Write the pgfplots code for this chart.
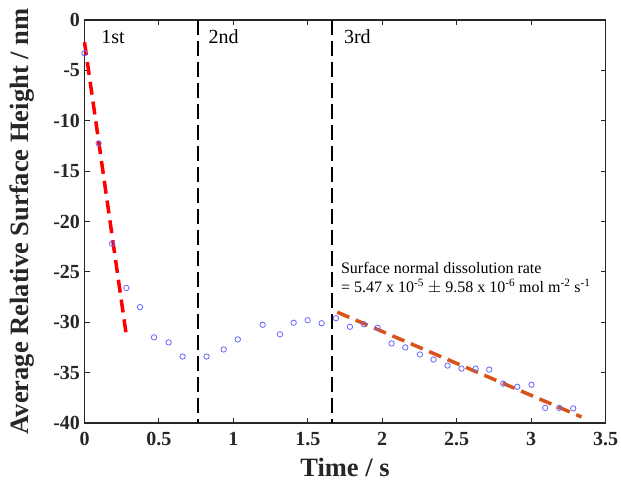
\documentclass[border=0pt]{standalone}
\usepackage{fontspec}
\setmainfont{Liberation Serif}
\usepackage{pgfplots}
\pgfplotsset{compat=1.18}
\definecolor{ptblue}{rgb}{0.4,0.4,1}
\definecolor{fitorange}{rgb}{0.85,0.325,0.098}
\definecolor{axgray}{rgb}{0.15,0.15,0.15}

\begin{document}
\begin{tikzpicture}[x=1pt,y=1pt]
\useasboundingbox (-84.5,-60) rectangle (536.5,423);
\begin{axis}[
  at={(0,0)}, anchor=south west,
  scale only axis,
  width=521pt, height=403pt,
  xmin=0, xmax=3.5, ymin=-40, ymax=0,
  xtick={0,0.5,...,3.5}, ytick={-40,-35,...,0},
  tick align=inside, tick pos=both,
  major tick length=5pt,
  axis line style={draw=axgray, line width=1.3pt},
  every tick/.style={draw=axgray, line width=1.1pt},
  /pgf/number format/assume math mode=true,
  ticklabel style={font=\bfseries\fontsize{20}{20}\selectfont, text=axgray},
  xticklabel style={yshift=-6pt},
  yticklabel style={xshift=-1pt},
  xlabel={Time / s},
  ylabel={Average Relative Surface Height / nm},
  label style={font=\bfseries\fontsize{26.5}{26.5}\selectfont, text=axgray},
  xlabel style={yshift=-5pt},
  ylabel style={yshift=12pt},
  clip=false,
]
% measured points
\addplot[only marks, mark=o, mark size=2.7pt, mark options={draw=ptblue, line width=0.8pt}] coordinates {
(0.000,-3.3) (0.095,-12.25) (0.185,-22.2) (0.281,-26.6) (0.373,-28.5)
(0.467,-31.5) (0.565,-32.0) (0.659,-33.4) (0.820,-33.4) (0.935,-32.7)
(1.030,-31.7) (1.197,-30.25) (1.313,-31.2) (1.405,-30.05) (1.499,-29.8)
(1.593,-30.1) (1.689,-29.6) (1.783,-30.45) (1.877,-30.2) (1.969,-30.55)
(2.063,-32.1) (2.155,-32.5) (2.253,-33.2) (2.345,-33.7) (2.439,-34.3)
(2.533,-34.6) (2.627,-34.6) (2.719,-34.7) (2.813,-36.1) (2.907,-36.4)
(3.003,-36.2) (3.095,-38.5) (3.189,-38.5) (3.283,-38.55)
};
% fit, first stage
\addplot[red, line width=3.5pt, dash pattern=on 13pt off 7pt] coordinates {(0,-2.2) (0.28,-31.2)};
% fit, third stage
\addplot[fitorange, line width=3.5pt, dash pattern=on 13pt off 7pt] coordinates {(1.698,-29.0) (3.339,-39.4)};
% stage boundaries
\addplot[black, line width=1.8pt, dash pattern=on 15pt off 6pt] coordinates {(0.76,0) (0.76,-40)};
\addplot[black, line width=1.8pt, dash pattern=on 15pt off 6pt] coordinates {(1.662,0) (1.662,-40)};
\node[anchor=west, font=\fontsize{20}{20}\selectfont] at (axis cs:0.09,-1.7) {1st};
\node[anchor=west, font=\fontsize{20}{20}\selectfont] at (axis cs:0.81,-1.7) {2nd};
\node[anchor=west, font=\fontsize{20}{20}\selectfont] at (axis cs:1.72,-1.7) {3rd};
\node[anchor=west, align=left, font=\fontsize{16}{19.5}\selectfont] at (axis cs:1.70,-25.6)
  {Surface normal dissolution rate\\= 5.47 x 10\textsuperscript{-5} $\pm$ 9.58 x 10\textsuperscript{-6} mol m\textsuperscript{-2} s\textsuperscript{-1}};
\end{axis}
\end{tikzpicture}
\end{document}
